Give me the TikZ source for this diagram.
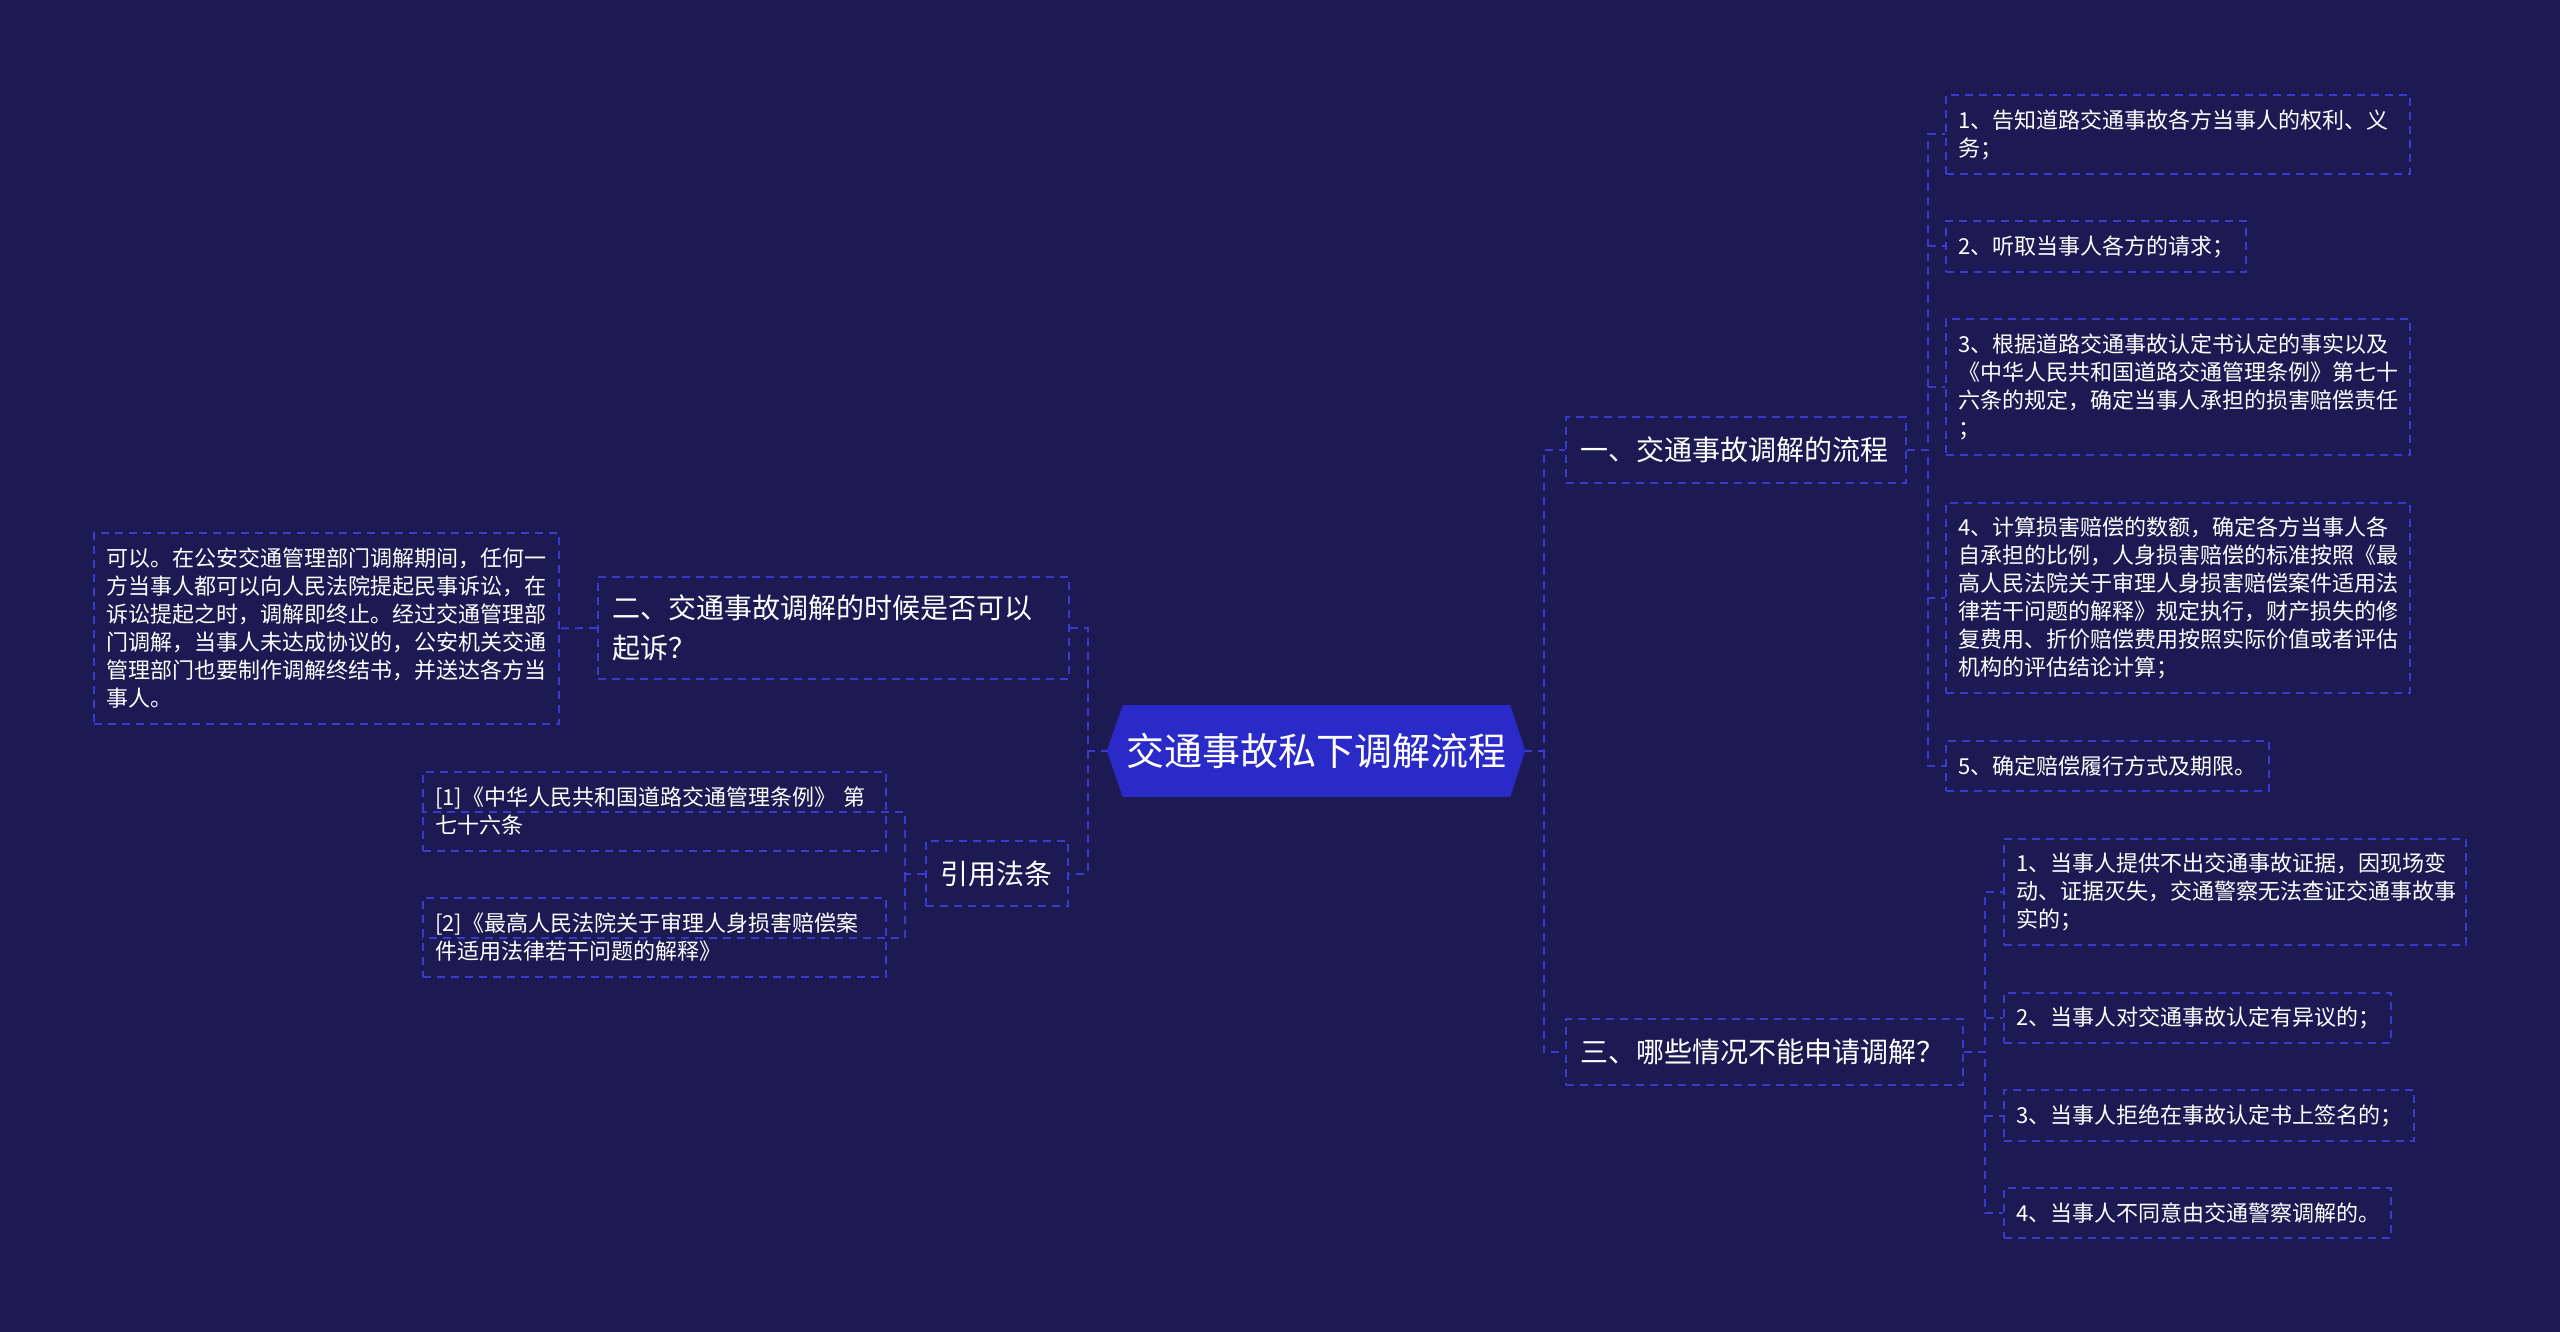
\documentclass[tikz,border=0pt]{standalone}
\usepackage{fontspec}
\setmainfont{Noto Sans CJK SC}

\begin{document}
\begin{tikzpicture}[x=1pt,y=-1pt,
  link/.style={draw=linkblue,line width=2pt,dash pattern=on 8pt off 6pt},
  leaf/.style={link,anchor=north west,text=white,align=left,inner xsep=12pt,inner ysep=0pt,
    font=\fontsize{22}{28}\selectfont},
  topic/.style={link,anchor=north west,text=white,align=left,inner xsep=14pt,inner ysep=0pt,
    font=\fontsize{28}{40}\selectfont}]
  \definecolor{bgnavy}{RGB}{27,26,82}
  \definecolor{linkblue}{RGB}{58,58,205}
  \definecolor{rootblue}{RGB}{42,42,200}

  \useasboundingbox (0,0) rectangle (2560,1332);
  \fill[bgnavy] (0,0) rectangle (2560,1332);

  % root
  \node[fill=rootblue,text=white,inner sep=0pt,minimum width=387pt,minimum height=92pt,
    font=\fontsize{38}{46}\selectfont] (root) at (1316.5,751) {交通事故私下调解流程};

  % branch one
  \node[topic,text width=312pt,minimum height=66pt] (one) at (1565,416) {一、交通事故调解的流程};
  \node[leaf,text width=440pt,minimum height=79pt] (a1) at (1945,94) {1、告知道路交通事故各方当事人的权利、义\\务；};
  \node[leaf,text width=276pt,minimum height=51pt] (a2) at (1945,220) {2、听取当事人各方的请求；};
  \node[leaf,text width=440pt,minimum height=136pt] (a3) at (1945,318) {3、根据道路交通事故认定书认定的事实以及\\《中华人民共和国道路交通管理条例》第七十\\六条的规定，确定当事人承担的损害赔偿责任\\；};
  \node[leaf,text width=440pt,minimum height=190pt] (a4) at (1945,502) {4、计算损害赔偿的数额，确定各方当事人各\\自承担的比例，人身损害赔偿的标准按照《最\\高人民法院关于审理人身损害赔偿案件适用法\\律若干问题的解释》规定执行，财产损失的修\\复费用、折价赔偿费用按照实际价值或者评估\\机构的评估结论计算；};
  \node[leaf,text width=299pt,minimum height=50pt] (a5) at (1945,740) {5、确定赔偿履行方式及期限。};

  % branch two
  \node[topic,text width=443pt,minimum height=102pt] (two) at (597,576) {二、交通事故调解的时候是否可以\\起诉？};
  \node[leaf,text width=441pt,minimum height=191pt] (twoAns) at (93,532) {可以。在公安交通管理部门调解期间，任何一\\方当事人都可以向人民法院提起民事诉讼，在\\诉讼提起之时，调解即终止。经过交通管理部\\门调解，当事人未达成协议的，公安机关交通\\管理部门也要制作调解终结书，并送达各方当\\事人。};

  % branch three
  \node[topic,text width=369pt,minimum height=66pt] (three) at (1565,1018) {三、哪些情况不能申请调解？};
  \node[leaf,text width=438pt,minimum height=106pt] (b1) at (2003,838) {1、当事人提供不出交通事故证据，因现场变\\动、证据灭失，交通警察无法查证交通事故事\\实的；};
  \node[leaf,text width=363pt,minimum height=50pt] (b2) at (2003,992) {2、当事人对交通事故认定有异议的；};
  \node[leaf,text width=386pt,minimum height=51pt] (b3) at (2003,1089) {3、当事人拒绝在事故认定书上签名的；};
  \node[leaf,text width=363pt,minimum height=50pt] (b4) at (2003,1187) {4、当事人不同意由交通警察调解的。};

  % citations
  \node[topic,text width=114pt,minimum height=65pt] (cite) at (925,840) {引用法条};
  \node[leaf,text width=439pt,minimum height=79pt] (ref1) at (422,771) {[1]《中华人民共和国道路交通管理条例》 第\\七十六条};
  \node[leaf,text width=439pt,minimum height=79pt] (ref2) at (422,897) {[2]《最高人民法院关于审理人身损害赔偿案\\件适用法律若干问题的解释》};

  % connectors
  \coordinate (rootR) at ([xshift=34pt]root.east);
  \coordinate (rootL) at ([xshift=-35pt]root.west);
  \coordinate (oneT) at ([xshift=21pt]one.east);
  \coordinate (threeT) at ([xshift=21pt]three.east);
  \coordinate (citeT) at ([xshift=-20pt]cite.west);

  \draw[link] (root.east) -- (rootR) |- (one.west);
  \draw[link] (rootR) |- (three.west);
  \draw[link] (root.west) -- (rootL) |- (two.east);
  \draw[link] (rootL) |- (cite.east);
  \foreach \n in {a1,a2,a3,a4,a5}
    {\draw[link] (one.east) -- (oneT) |- (\n.west);}
  \foreach \n in {b1,b2,b3,b4}
    {\draw[link] (three.east) -- (threeT) |- (\n.west);}
  \draw[link] (two.west) -- (twoAns.east);
  \draw[link] (cite.west) -- (citeT) |- (ref1.west);
  \draw[link] (citeT) |- (ref2.west);

  % pointed ends of the root
  \fill[rootblue] (root.north west) -- ++(-16,46) -- (root.south west) -- cycle;
  \fill[rootblue] (root.north east) -- ++(15,46) -- (root.south east) -- cycle;
\end{tikzpicture}
\end{document}
